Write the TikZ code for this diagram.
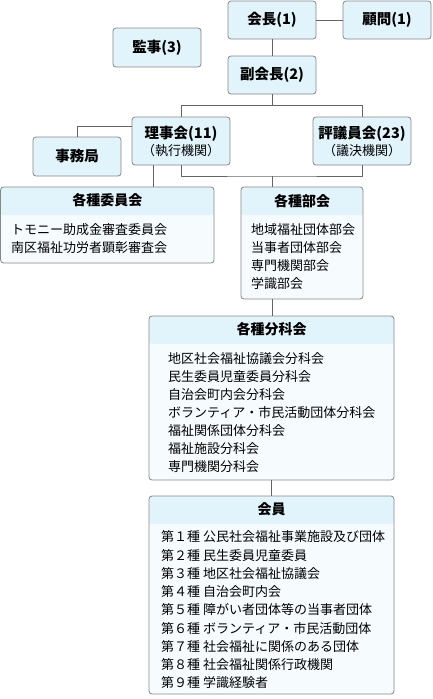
\documentclass[tikz,border=0pt]{standalone}
\usepackage{fontspec}
\setmainfont{Noto Sans CJK JP}
\usetikzlibrary{positioning}
\tikzstyle{chart} = [x = 1pt, y = -1pt]
\definecolor{boxFill}{RGB}{226,244,251}
\definecolor{bodyFill}{RGB}{246,252,254}
\definecolor{boxLine}{RGB}{135,135,135}
\definecolor{linkLine}{RGB}{100,100,100}
\tikzstyle{roleBox} = [draw=boxLine, fill=boxFill, rounded corners = 3pt, line width = .8pt, minimum width = 88pt, minimum height = 38pt, inner sep = 0pt, font=\bfseries\fontsize{14.5}{18}\selectfont, align=center]
\tikzstyle{groupBox} = [draw=boxLine, fill=bodyFill, rounded corners = 3pt, line width = .8pt, inner sep = 0pt,
  path picture={\fill [boxFill] (path picture bounding box.north west) rectangle ([yshift=-28pt]path picture bounding box.north east);}]
\tikzstyle{groupTitle} = [font=\bfseries\fontsize{14}{16}\selectfont, inner sep = 0pt]
\tikzstyle{groupList} = [font=\fontsize{13}{18}\selectfont, align=left, anchor=base west, inner sep = 0pt]
\tikzstyle{link} = [draw=linkLine, line width = .8pt]
\newcommand{\groupBox}[5]{
  \node [groupBox, minimum width = #3, minimum height = #4] (#1) at #2 {};
  \node [groupTitle] (#1Title) at ([yshift=-14pt]#1.north) {#5};
}
\begin{document}
\begin{tikzpicture}[chart]
  \useasboundingbox (0,0) rectangle (432,699);

  % top officers
  \node [roleBox] (chair) at (272,20) {会長(1)};
  \node [roleBox] (advisor) at (387,20) {顧問(1)};
  \node [roleBox, minimum height = 39pt] (auditor) at (157,47.5) {監事(3)};
  \node [roleBox] (vice) at (272,75) {副会長(2)};
  \node [roleBox, minimum width = 98pt, minimum height = 48pt] (board) at (181,141) {理事会(11)\\[-1pt]{\normalfont\fontsize{13}{16}\selectfont（執行機関）}};
  \node [roleBox, minimum width = 98pt, minimum height = 48pt] (council) at (362,141) {評議員会(23)\\[-1pt]{\normalfont\fontsize{13}{16}\selectfont（議決機関）}};
  \node [roleBox, minimum height = 39pt] (office) at (77,156.5) {事務局};

  % groups (list nodes are placed by the baseline of their last line)
  \groupBox{committee}{(107.3,225)}{213.4pt}{76pt}{各種委員会}
  \node [groupList] (committeeList) at (11,252.9) {トモニー助成金審査委員会\\南区福祉功労者顕彰審査会};

  \groupBox{bukai}{(302,243)}{122pt}{112pt}{各種部会}
  \node [groupList] (bukaiList) at (251,288.9) {地域福祉団体部会\\当事者団体部会\\専門機関部会\\学識部会};

  \groupBox{bunka}{(271.5,398)}{245pt}{164pt}{各種分科会}
  \node [groupList] (bunkaList) at (168,471.9) {地区社会福祉協議会分科会\\民生委員児童委員分科会\\自治会町内会分科会\\ボランティア・市民活動団体分科会\\福祉関係団体分科会\\福祉施設分科会\\専門機関分科会};

  \groupBox{member}{(271.5,595)}{245pt}{198pt}{会員}
  \node [groupList, font=\fontsize{13}{18.25}\selectfont] (memberList) at (161,687.9) {第１種 公民社会福祉事業施設及び団体\\第２種 民生委員児童委員\\第３種 地区社会福祉協議会\\第４種 自治会町内会\\第５種 障がい者団体等の当事者団体\\第６種 ボランティア・市民活動団体\\第７種 社会福祉に関係のある団体\\第８種 社会福祉関係行政機関\\第９種 学識経験者};

  % connectors
  \coordinate (bukaiJoin) at (272,176);
  \draw [link] (chair.east) -- (advisor.west);
  \draw [link] (chair.south) -- (vice.north);
  \draw [link] (vice.south) -- ++(0,11) coordinate (viceJoin);
  \draw [link] (board.north) |- (viceJoin) -| (council.north);
  \draw [link] ([yshift=15pt]board.west) -| (office.north);
  \draw [link] ([xshift=-28pt]board.south) -- ([xshift=-28pt]board.south |- committee.north);
  \draw [link] (board.south) |- (bukaiJoin) -| (council.south);
  \draw [link] (bukaiJoin) -- (bukaiJoin |- bukai.north);
  \draw [link] (bukaiJoin |- bukai.south) -- (bukaiJoin |- bunka.north);
  \draw [link] (bunka.south) -- (member.north);
\end{tikzpicture}
\end{document}
